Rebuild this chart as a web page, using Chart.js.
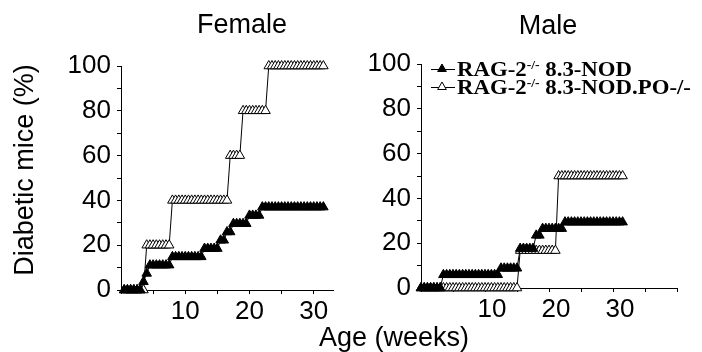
<!DOCTYPE html>
<html>
<head>
<meta charset="utf-8">
<script src="https://cdn.jsdelivr.net/npm/chart.js@4"></script>
<style>
  body { margin: 0; background: #fff; }
  #wrap { position: relative; width: 702px; height: 352px; overflow: hidden;
          font-family: "Liberation Sans", Arial, sans-serif; color: #000; }
  canvas { position: absolute; top: 0; }
  .t { position: absolute; font-size: 27px; line-height: 30px; text-align: center; white-space: nowrap; }
  .leg { position: absolute; left: 457px; font: bold 20px "Liberation Serif", "Times New Roman", serif;
         line-height: 20px; transform: scaleX(1.14); transform-origin: 0 0; white-space: nowrap; }
  .leg span { font-size: 12px; position: relative; top: -7px; }
</style>
</head>
<body>
<div id="wrap">
  <canvas id="female" width="360" height="352" style="left:0"></canvas>
  <canvas id="male" width="342" height="352" style="left:360px"></canvas>
  <div class="t" style="left:142px; top:9px; width:200px;">Female</div>
  <div class="t" style="left:448px; top:10px; width:200px;">Male</div>
  <div class="t" style="left:294px; top:322px; width:200px;">Age (weeks)</div>
  <div class="t" style="left:-106px; top:155px; width:260px; transform:rotate(-90deg);">Diabetic mice (%)</div>
  <div class="leg" style="top:59px;">RAG-2<span>-/-</span> 8.3-NOD</div>
  <div class="leg" style="top:77px;">RAG-2<span>-/-</span> 8.3-NOD.PO-/-</div>
</div>
<script>
// ages sampled in weeks
const femaleWeeks = [0.5, 1, 1.5, 2, 2.5, 3, 3.5, 4, 4.5, 5, 5.5, 6, 6.5, 7, 7.5, 8, 8.5, 9, 9.5, 10,
  10.5, 11, 11.5, 12, 12.5, 13, 13.5, 14, 14.5, 15, 15.5, 16, 16.5, 17, 17.5, 18, 18.5, 19, 19.5, 20,
  20.5, 21, 21.5, 22, 22.5, 23, 23.5, 24, 24.5, 25, 25.5, 26, 26.5, 27, 27.5, 28, 28.5, 29, 29.5, 30,
  30.5, 31, 31.5];
const maleWeeks = [0, 0.5, 1, 1.5, 2, 2.5, 3, 3.5, 4, 4.5, 5, 5.5, 6, 6.5, 7, 7.5, 8, 8.5, 9, 9.5, 10,
  10.5, 11, 11.5, 12, 12.5, 13, 13.5, 14, 14.5, 15, 15.5, 16, 16.5, 17, 17.5, 18, 18.5, 19, 19.5, 20,
  20.5, 21, 21.5, 22, 22.5, 23, 23.5, 24, 24.5, 25, 25.5, 26, 26.5, 27, 27.5, 28, 28.5, 29, 29.5, 30,
  30.5, 31, 31.5];

// % diabetic
const femaleNOD = [0, 0, 0, 0, 0, 0, 3.7, 7.4, 11.1, 11.1, 11.1, 11.1, 11.1, 11.1, 11.1,
  14.8, 14.8, 14.8, 14.8, 14.8, 14.8, 14.8, 14.8, 14.8, 14.8, 18.5, 18.5, 18.5, 18.5, 18.5,
  22.2, 22.2, 25.9, 25.9, 29.6, 29.6, 29.6, 29.6, 29.6, 33.3, 33.3, 33.3, 33.3,
  37, 37, 37, 37, 37, 37, 37, 37, 37, 37, 37, 37, 37, 37, 37, 37, 37, 37, 37, 37];
const femalePO = [0, 0, 0, 0, 0, 0, 0, 20, 20, 20, 20, 20, 20, 20, 20,
  40, 40, 40, 40, 40, 40, 40, 40, 40, 40, 40, 40, 40, 40, 40, 40, 40, 40,
  60, 60, 60, 60, 80, 80, 80, 80, 80, 80, 80, 80,
  100, 100, 100, 100, 100, 100, 100, 100, 100, 100, 100, 100, 100, 100, 100, 100, 100, 100];
const maleNOD = [0, 0, 0, 0, 0, 0, 0,
  5.9, 5.9, 5.9, 5.9, 5.9, 5.9, 5.9, 5.9, 5.9, 5.9, 5.9, 5.9, 5.9, 5.9, 5.9, 5.9, 5.9, 5.9,
  8.8, 8.8, 8.8, 8.8, 8.8, 8.8, 17.6, 17.6, 17.6, 17.6, 17.6, 23.5, 23.5,
  26.5, 26.5, 26.5, 26.5, 26.5, 26.5, 26.5,
  29.4, 29.4, 29.4, 29.4, 29.4, 29.4, 29.4, 29.4, 29.4, 29.4, 29.4, 29.4, 29.4, 29.4, 29.4, 29.4, 29.4, 29.4, 29.4];
const malePO = [0, 0, 0, 0, 0, 0, 0, 0, 0, 0, 0, 0, 0, 0, 0, 0, 0, 0, 0, 0, 0, 0, 0, 0, 0, 0, 0, 0, 0, 0, 0,
  16.7, 16.7, 16.7, 16.7, 16.7, 16.7, 16.7, 16.7, 16.7, 16.7, 16.7, 16.7,
  50, 50, 50, 50, 50, 50, 50, 50, 50, 50, 50, 50, 50, 50, 50, 50, 50, 50, 50, 50, 50];

const yTicks = [0, 10, 20, 30, 40, 50, 60, 70, 80, 90, 100];
const yLabels = [0, 20, 40, 60, 80, 100];
const femaleXTicks = [0, 5, 10, 15, 20, 25, 30];
const maleXTicks = [0, 5, 10, 15, 20, 25, 30, 35, 40];
const xLabels = [10, 20, 30];

const font = { family: '"Liberation Sans", Arial, sans-serif', size: 26 };

// triangles + line samples for the legend in the male panel
const legendMarks = {
  id: 'legendMarks',
  afterDraw(chart) {
    const ctx = chart.ctx;
    ctx.save();
    ctx.strokeStyle = '#000';
    ctx.lineWidth = 1;
    [[69, '#000'], [87, '#fff']].forEach(([y, fill]) => {
      ctx.beginPath();
      ctx.moveTo(71, y + 0.5);
      ctx.lineTo(95, y + 0.5);
      ctx.stroke();
      const r = 5, x = 82;
      ctx.beginPath();
      ctx.moveTo(x, y - r);
      ctx.lineTo(x + r * 0.866, y + r / 2);
      ctx.lineTo(x - r * 0.866, y + r / 2);
      ctx.closePath();
      ctx.fillStyle = fill;
      ctx.fill();
      ctx.stroke();
    });
    ctx.restore();
  }
};

function series(weeks, vals, fill) {
  return {
    data: vals.map((v, i) => ({ x: weeks[i], y: v })),
    borderColor: '#000',
    borderWidth: 1,
    pointStyle: 'triangle',
    pointRadius: 5.5,
    pointBackgroundColor: fill,
    pointBorderColor: '#000',
    pointBorderWidth: 1,
    clip: false
  };
}

function makeChart(id, weeks, nod, po, xTicks, xMax, yWidth, pad, labelOffset, plugins) {
  return new Chart(document.getElementById(id), {
    type: 'line',
    data: { datasets: [series(weeks, nod, '#000'), series(weeks, po, '#fff')] },
    plugins: plugins,
    options: {
      responsive: false,
      animation: false,
      events: [],
      layout: { padding: pad },
      plugins: { legend: { display: false }, tooltip: { enabled: false } },
      scales: {
        x: {
          type: 'linear', min: 0, max: xMax,
          afterBuildTicks: s => { s.ticks = xTicks.map(v => ({ value: v })); },
          afterFit: s => { s.height = 30; },
          grid: { drawOnChartArea: false, tickLength: 4, color: '#000' },
          border: { color: '#000', width: 1 },
          ticks: { font: font, color: '#000', padding: 2, maxRotation: 0, autoSkip: false,
                   labelOffset: labelOffset,
                   callback: v => xLabels.includes(v) ? v : '' }
        },
        y: {
          min: 0, max: 100,
          afterBuildTicks: s => { s.ticks = yTicks.map(v => ({ value: v })); },
          afterFit: s => { s.width = yWidth; },
          grid: { drawOnChartArea: false, tickLength: 4, color: '#000' },
          border: { color: '#000', width: 1 },
          ticks: { font: font, color: '#000', padding: 6, autoSkip: false,
                   callback: v => yLabels.includes(v) ? v : '' }
        }
      }
    }
  });
}

makeChart('female', femaleWeeks, femaleNOD, femalePO, femaleXTicks, 33, 121,
  { left: 0, right: 27, top: 66, bottom: 32 }, 0, []);
makeChart('male', maleWeeks, maleNOD, malePO, maleXTicks, 40, 61,
  { left: 0, right: 25, top: 64, bottom: 34 }, 7, [legendMarks]);
</script>
</body>
</html>
